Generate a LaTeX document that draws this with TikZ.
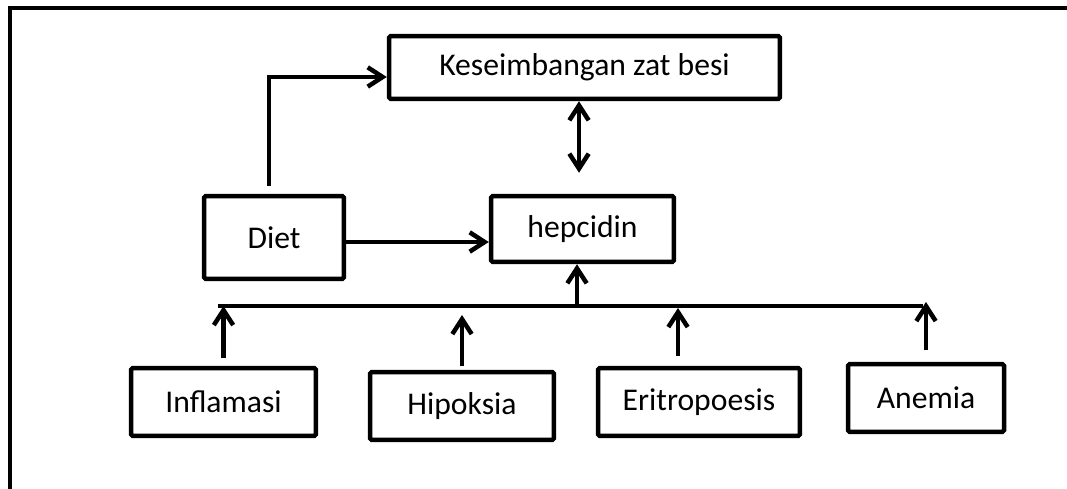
\documentclass[tikz,border=0pt]{standalone}
\usepackage{fontspec}
\setmainfont{Carlito}
\usetikzlibrary{arrows.meta}

\begin{document}
\begin{tikzpicture}[x=0.02cm, y=-0.02cm, line width=0.09cm,
  box/.style={draw, rounded corners=1pt, inner sep=0pt, font=\fontsize{18}{21}\selectfont},
  >={Straight Barb[length=8.5pt,width=11pt]}]
  \useasboundingbox (0,0) rectangle (1067,489);
  \draw (10,495) -- (10,8) -- (1075,8);

  \node (kes) [box, minimum width=7.82cm, minimum height=1.26cm] at (584.5,67.5) {Keseimbangan zat besi};
  \node (hep) [box, minimum width=3.66cm, minimum height=1.32cm] at (582.5,229) {hepcidin};
  \node (diet) [box, minimum width=2.8cm, minimum height=1.66cm] at (274,237.5) {Diet};
  \node (infl) [box, minimum width=3.7cm, minimum height=1.36cm] at (223.5,402) {Inflamasi};
  \node (hipo) [box, minimum width=3.68cm, minimum height=1.36cm] at (462,406) {Hipoksia};
  \node (erit) [box, minimum width=4.04cm, minimum height=1.36cm] at (699,402) {Eritropoesis};
  \node (anem) [box, minimum width=3.12cm, minimum height=1.36cm] at (926,398) {Anemia};

  \coordinate (busL) at (218,306);
  \coordinate (busR) at (923,306);
  \coordinate (busH) at (577,306);
  \draw (busL) -- (busR);

  \draw[->, shorten <=0.16cm] ([xshift=-0.1cm]diet.north) |- ([yshift=-0.19cm]kes.west);
  \draw[<->, shorten >=0.42cm] ([xshift=-0.11cm]kes.south) -- ([xshift=-0.11cm]kes.south |- hep.north);
  \draw[->] ([yshift=-0.09cm]diet.east) -- ([yshift=-0.09cm]diet.east -| hep.west);
  \draw[->] (busH) -- (busH |- hep.south);
  \draw[->, shorten <=0.16cm] (infl.north) -- (infl.north |- busL);
  \draw[->, shorten <=0.08cm, shorten >=0.18cm] (hipo.north) -- (hipo.north |- busL);
  \draw[->, shorten <=0.2cm, shorten >=0.04cm] ([xshift=-0.42cm]erit.north) -- ([xshift=-0.42cm]erit.north |- busL);
  \draw[->, shorten <=0.24cm, shorten >=-0.08cm] (anem.north) -- (anem.north |- busR);
\end{tikzpicture}
\end{document}
